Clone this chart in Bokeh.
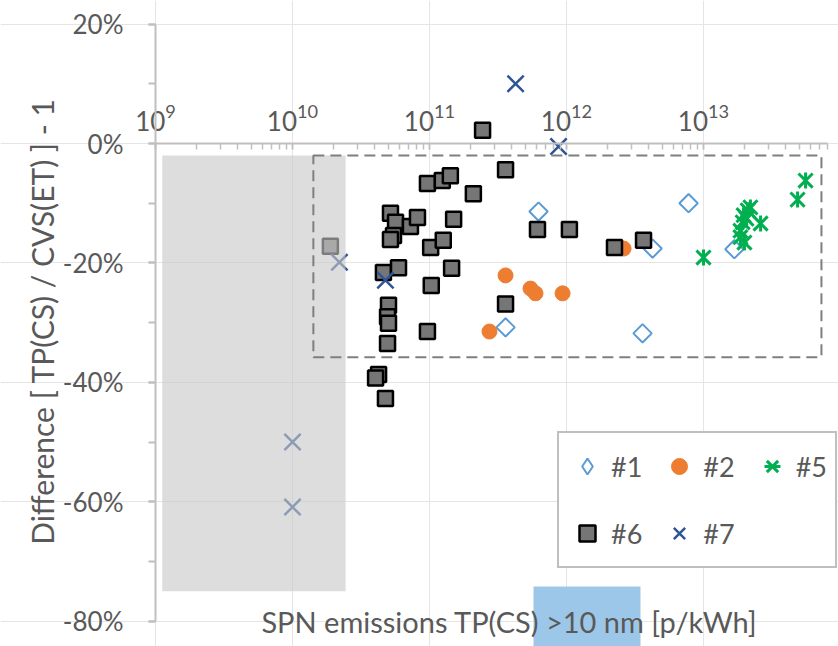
import numpy as np
from bokeh.plotting import figure
from bokeh.models import (Range1d, FixedTicker, PrintfTickFormatter, Legend, LegendItem,
                          Label, LinearAxis, LogAxis, LogTickFormatter)
from bokeh.core.properties import value
from bokeh.embed import file_html
from bokeh.resources import INLINE

# ---------------- data (x: particles/kWh, y: difference in %) ----------------
s1_x = [6.25e11, 3.59e11, 3.59e12, 7.78e12, 4.25e12, 1.68e13]
s1_y = [-11.4, -30.8, -31.8, -10.0, -17.6, -17.7]

s2_x = [3.59e11, 5.46e11, 5.94e11, 9.36e11, 2.74e11, 2.61e12]
s2_y = [-22.1, -24.3, -25.1, -25.1, -31.5, -17.6]

s5_x = [1.0e13, 5.56e13, 4.86e13, 2.61e13, 2.2e13, 1.96e13, 1.93e13, 1.86e13,
        1.86e13, 2.06e13, 2.1e13, 1.99e13]
s5_y = [-19.1, -6.2, -9.4, -13.4, -10.7, -12.0, -13.2, -14.6, -15.7, -12.6, -11.2, -16.6]

s6_x = [1.89e10, 5.19e10, 5.65e10, 5.46e10, 5.19e10, 7.26e10, 8.17e10, 9.66e10,
        1.24e11, 1.42e11, 2.09e11, 1.50e11, 1.02e11, 1.26e11, 4.61e10, 5.94e10,
        1.45e11, 1.03e11, 5.02e10, 4.94e10, 5.02e10, 9.66e10, 4.94e10, 4.25e10,
        4.04e10, 4.77e10, 2.44e11, 3.59e11, 6.14e11, 1.05e12, 2.24e12, 3.65e12,
        3.59e11]
s6_y = [-17.2, -11.7, -13.2, -15.4, -16.1, -13.9, -12.4, -6.7,
        -6.2, -5.4, -8.4, -12.7, -17.4, -16.2, -21.6, -20.8,
        -20.9, -23.8, -27.1, -29.0, -30.1, -31.5, -33.5, -38.7,
        -39.3, -42.7, 2.2, -4.4, -14.4, -14.4, -17.4, -16.2,
        -26.9]

s7_x = [4.25e11, 8.75e11, 2.2e10, 4.77e10, 1.0e10, 1.0e10]
s7_y = [10.0, -0.5, -19.9, -22.9, -50.0, -60.9]

series_names = ["#1", "#2", "#5", "#6", "#7"]

y_major_ticks = [-80, -60, -40, -20, 0, 20]
y_minor_ticks = [-80, -70, -60, -50, -40, -30, -20, -10, 0, 10, 20]
x_decades = [1e9, 1e10, 1e11, 1e12, 1e13]
x_axis_start = 1e9
x_axis_end = 8e13

shade_x = [1.12e9, 2.44e10]      # grey band
shade_y = [-2.0, -75.0]
box_x = [1.42e10, 7.26e13]       # dashed region
box_y = [-2.0, -35.8]

x_title = "SPN emissions TP(CS) >10 nm [p/kWh]"
y_title = "Difference [ TP(CS) / CVS(ET) ] - 1"

# ---------------- pixel geometry helpers (layout only) ----------------
W, H = 838, 646
X0_PX, DEC_PX = 155, 137.0     # 1e9 at x px 155, px per decade
Y0_PX, PCT_PX = 143, 5.97      # 0 % row, px per percent


def xd(px):
    return 10 ** (9 + (px - X0_PX) / DEC_PX)


def yd(py):
    return (Y0_PX - py) / PCT_PX


TXT = "#595959"
AX = "#BFBFBF"
FONT = "Lato"

p = figure(width=W, height=H, x_axis_type="log", x_axis_location=None,
           y_axis_location=None,
           x_range=Range1d(xd(0), xd(W)), y_range=Range1d(yd(H), yd(0)),
           toolbar_location=None, output_backend="svg", min_border=0)
p.outline_line_color = None
p.background_fill_color = "white"
p.border_fill_color = "white"

# ---------------- y axis (crossing at x = 1e9) ----------------
ya = LinearAxis(fixed_location=x_axis_start,
                ticker=FixedTicker(ticks=y_major_ticks, minor_ticks=y_minor_ticks),
                formatter=PrintfTickFormatter(format="%d%%"),
                bounds=(min(y_major_ticks), max(y_major_ticks)))
ya.axis_line_color = AX
ya.axis_line_width = 2
ya.major_tick_line_color = AX
ya.minor_tick_line_color = AX
ya.major_tick_line_width = 2
ya.minor_tick_line_width = 2
ya.major_tick_out = 7
ya.major_tick_in = 0
ya.minor_tick_out = 7
ya.minor_tick_in = 0
ya.major_label_text_font = FONT
ya.major_label_text_font_size = "26px"
ya.major_label_text_color = TXT
ya.major_label_standoff = 25
p.add_layout(ya, "left")

# y title, rotated
p.add_layout(Label(x=xd(41), y=yd(321), text=y_title, angle=np.pi / 2,
                   text_align="center", text_baseline="middle",
                   text_font=FONT, text_font_size="30px", text_color=TXT))

# ---------------- x axis (log, crossing at y = 0, labels above) ----------------
x_minor = [k * d for d in x_decades for k in range(1, 10) if k * d <= x_axis_end]
xa = LogAxis(fixed_location=0,
             ticker=FixedTicker(ticks=x_decades, minor_ticks=x_minor),
             formatter=LogTickFormatter(),
             bounds=(x_axis_start, x_axis_end))
xa.axis_line_color = AX
xa.axis_line_width = 2
xa.major_tick_line_color = AX
xa.minor_tick_line_color = AX
xa.major_tick_line_width = 1.5
xa.minor_tick_line_width = 1.5
xa.major_tick_out = 0
xa.major_tick_in = 6
xa.minor_tick_out = 0
xa.minor_tick_in = 6
xa.major_label_text_font = FONT
xa.major_label_text_font_size = "26px"
xa.major_label_text_color = TXT
xa.major_label_standoff = 13
p.add_layout(xa, "above")

# ---------------- series ----------------
r1 = p.scatter(s1_x, s1_y, marker="square", angle=np.pi / 4, size=13,
               fill_color=None, line_color="#5B9BD5", line_width=2)
r2 = p.scatter(s2_x, s2_y, marker="circle", size=15,
               fill_color="#ED7D31", line_color="#ED7D31", line_width=1)
# Excel-style star: a cross of two diagonals plus a vertical bar
r5a = p.scatter(s5_x, s5_y, marker="x", size=20,
                line_color="#00B050", line_width=3)
r5b = p.scatter(s5_x, s5_y, marker="dash", angle=np.pi / 2, size=16,
                line_color="#00B050", line_width=3)
r6 = p.scatter(s6_x, s6_y, marker="square", size=15,
               fill_color="#767676", line_color="black", line_width=2.5)
r7 = p.scatter(s7_x, s7_y, marker="x", size=23,
               line_color="#2F5597", line_width=2.5)

# grey band (translucent, over the points)
p.quad(left=[shade_x[0]], right=[shade_x[1]], top=[shade_y[0]], bottom=[shade_y[1]],
       fill_color="#C8C8C8", fill_alpha=0.62, line_color=None)

# dashed region
p.quad(left=[box_x[0]], right=[box_x[1]], top=[box_y[0]], bottom=[box_y[1]],
       fill_color=None, line_color="#7F7F7F", line_width=2, line_dash="11 6")

# x title with highlight behind ">10 nm"
p.quad(left=[xd(533)], right=[xd(640)], top=[yd(586)], bottom=[yd(H)],
       fill_color="#9DC7E8", line_color=None)
p.add_layout(Label(x=xd(509), y=yd(621), text=x_title, text_align="center",
                   text_baseline="alphabetic", text_font=FONT, text_font_size="29px",
                   text_color=TXT))

# ---------------- legend ----------------
# legend key for #1 (diamond outline); its point lies off-canvas
r1_key = p.scatter([xd(-60)], [0], marker="diamond", size=18, fill_color=None,
                   line_color="#5B9BD5", line_width=2)
legend = Legend(items=[LegendItem(label=series_names[0], renderers=[r1_key]),
                       LegendItem(label=series_names[1], renderers=[r2]),
                       LegendItem(label=series_names[2], renderers=[r5a, r5b]),
                       LegendItem(label=series_names[3], renderers=[r6]),
                       LegendItem(label=series_names[4], renderers=[r7])],
                orientation="horizontal", ncols=3,
                location=(557, 78), margin=0, padding=8, spacing=17,
                glyph_width=40, glyph_height=40, label_height=50, label_standoff=4,
                label_text_font=FONT, label_text_font_size="27px",
                label_text_color=TXT, border_line_color="#7F7F7F",
                border_line_width=2, background_fill_alpha=1)
p.add_layout(legend, "center")

open("out.html", "w").write(file_html(p, INLINE))
